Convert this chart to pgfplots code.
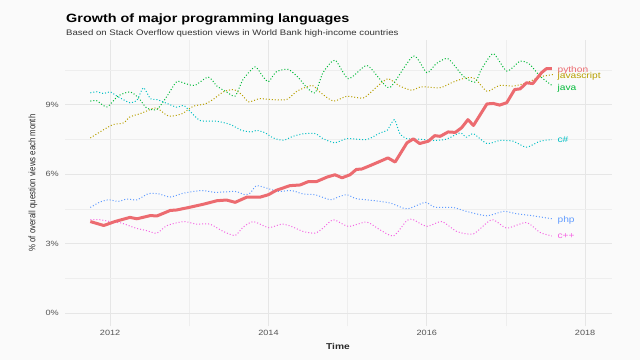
\documentclass[border=0pt]{standalone}
\usepackage{pgfplots}
\pgfplotsset{compat=1.18}
\usepackage{graphicx}
\usepackage{fontspec}
\setmainfont{Liberation Sans}
\definecolor{bgcol}{HTML}{FAFAFA}
\definecolor{gridmaj}{HTML}{E6E6E6}
\definecolor{gridmin}{HTML}{EEEEEE}
\definecolor{tickcol}{HTML}{555555}
\definecolor{labcol}{HTML}{2A2A2A}
\definecolor{subcol}{HTML}{333333}
\definecolor{pycol}{HTML}{EC6B70}
\definecolor{jscol}{HTML}{B79F00}
\definecolor{javacol}{HTML}{00BA38}
\definecolor{cscol}{HTML}{00BFC4}
\definecolor{phpcol}{HTML}{619CFF}
\definecolor{cppcol}{HTML}{F564E3}
\newcommand{\sx}[1]{\scalebox{1.2}[1]{#1}}
\begin{document}
\begin{tikzpicture}
\fill[bgcol] (0,0) rectangle (640pt,360pt);
\node[anchor=base west, inner sep=0pt] at (66pt,337.3pt) {\fontsize{12}{14}\selectfont\bfseries\sx{Growth of major programming languages}};
\node[anchor=base west, inner sep=0pt, text=subcol] at (66pt,325pt) {\fontsize{8}{10}\selectfont\sx{Based on Stack Overflow question views in World Bank high-income countries}};
\node[rotate=90, inner sep=0pt, text=labcol] at (33pt,177pt) {\fontsize{7.8}{9}\selectfont\scalebox{1}[1.2]{\% of overall question views each month}};
\node[inner sep=0pt, text=labcol] at (338pt,14pt) {\fontsize{8.5}{10}\selectfont\bfseries\sx{Time}};
\begin{axis}[
  at={(65pt,34pt)}, anchor=south west, scale only axis,
  width=547pt, height=286pt,
  xmin=2011.43, xmax=2018.34, ymin=-0.56, ymax=11.79,
  axis line style={draw=none},
  major tick length=0pt, minor tick length=0pt,
  xtick={2012,2014,2016,2018},
  xticklabels={\sx{2012},\sx{2014},\sx{2016},\sx{2018}},
  minor xtick={2013,2015,2017},
  ytick={0,3,6,9},
  yticklabels={\sx{0\%},\sx{3\%},\sx{6\%},\sx{9\%}},
  minor ytick={1.5,4.5,7.5,10.5},
  grid=both,
  major grid style={gridmaj, line width=1pt},
  minor grid style={gridmin, line width=0.6pt},
  xticklabel style={font=\fontsize{7.6}{8}\selectfont, text=tickcol, inner sep=0pt, anchor=north, yshift=-3.5pt},
  yticklabel style={font=\fontsize{7.6}{8}\selectfont, text=tickcol, inner sep=0pt, anchor=east, xshift=-6pt},
  clip=false,
  every axis plot/.append style={line join=round},
]
% javascript
\addplot[jscol, line width=1pt, dash pattern=on 1pt off 2pt, smooth, tension=0.4] coordinates {
(2011.75,7.56)(2011.92,7.92)(2012.04,8.14)(2012.17,8.21)(2012.25,8.47)(2012.38,8.61)(2012.51,8.79)(2012.59,8.86)
(2012.74,8.50)(2012.91,8.61)(2013.05,8.93)(2013.20,9.03)(2013.30,9.22)(2013.43,9.55)(2013.56,9.65)(2013.66,9.44)
(2013.75,9.12)(2013.89,9.26)(2014.02,9.22)(2014.23,9.22)(2014.36,9.58)(2014.55,9.83)(2014.65,9.54)(2014.82,9.15)
(2014.99,9.36)(2015.20,9.29)(2015.37,9.77)(2015.51,10.12)(2015.66,9.80)(2015.81,9.62)(2015.93,9.77)(2016.17,9.73)
(2016.33,9.97)(2016.50,10.16)(2016.61,10.12)(2016.76,9.58)(2016.92,9.83)(2017.09,9.80)(2017.26,9.94)(2017.43,10.20)
(2017.60,10.30)};
% java
\addplot[javacol, line width=1pt, dash pattern=on 1pt off 2pt, smooth, tension=0.4] coordinates {
(2011.75,9.15)(2011.83,9.17)(2011.96,8.90)(2012.10,9.37)(2012.25,9.55)(2012.36,9.29)(2012.46,8.86)(2012.59,8.79)
(2012.72,9.37)(2012.84,9.99)(2012.95,9.91)(2013.07,9.83)(2013.24,10.19)(2013.35,9.80)(2013.47,9.55)(2013.58,9.37)
(2013.68,10.09)(2013.83,10.63)(2013.92,10.26)(2014.00,9.99)(2014.10,10.42)(2014.25,10.52)(2014.38,10.16)(2014.48,9.75)
(2014.59,9.51)(2014.69,10.38)(2014.84,10.92)(2015.01,10.12)(2015.24,10.69)(2015.41,10.09)(2015.54,9.75)(2015.83,11.10)
(2016.00,10.38)(2016.12,10.77)(2016.27,10.98)(2016.46,10.23)(2016.61,9.97)(2016.69,10.52)(2016.84,11.20)(2017.01,10.45)
(2017.18,10.88)(2017.30,10.74)(2017.43,10.23)(2017.58,9.83)};
% c#
\addplot[cscol, line width=1pt, dash pattern=on 1pt off 2pt, smooth, tension=0.4] coordinates {
(2011.75,9.51)(2011.83,9.55)(2011.92,9.48)(2012.00,9.55)(2012.10,9.34)(2012.25,9.08)(2012.34,9.19)(2012.42,9.73)
(2012.51,9.25)(2012.59,9.22)(2012.72,9.05)(2012.84,8.89)(2012.93,8.96)(2013.01,8.71)(2013.14,8.31)(2013.35,8.28)
(2013.52,8.14)(2013.66,7.89)(2013.79,7.82)(2013.85,7.89)(2013.96,7.78)(2014.06,7.56)(2014.19,7.46)(2014.31,7.63)
(2014.44,7.74)(2014.59,7.75)(2014.69,7.53)(2014.84,7.35)(2014.99,7.53)(2015.24,7.49)(2015.41,7.78)(2015.50,7.89)
(2015.59,8.35)(2015.66,7.75)(2015.75,7.53)(2015.91,7.51)(2016.08,7.45)(2016.25,7.51)(2016.42,7.78)(2016.50,7.59)
(2016.59,7.74)(2016.76,7.32)(2016.92,7.45)(2017.09,7.42)(2017.26,7.16)(2017.43,7.42)(2017.58,7.49)};
% php
\addplot[phpcol, line width=1pt, dash pattern=on 1pt off 2pt, smooth, tension=0.4] coordinates {
(2011.75,4.56)(2011.87,4.79)(2011.98,4.89)(2012.10,4.82)(2012.21,4.92)(2012.34,4.89)(2012.48,5.15)(2012.61,5.15)
(2012.76,5.01)(2012.93,5.18)(2013.16,5.29)(2013.33,5.21)(2013.58,5.25)(2013.70,5.11)(2013.77,5.18)(2013.85,5.50)
(2014.00,5.37)(2014.13,5.25)(2014.29,5.29)(2014.44,5.14)(2014.59,5.11)(2014.78,4.89)(2014.88,5.01)(2014.99,5.11)
(2015.11,4.94)(2015.32,4.86)(2015.54,4.75)(2015.75,4.50)(2015.98,4.78)(2016.10,4.57)(2016.33,4.56)(2016.50,4.39)
(2016.76,4.20)(2016.97,4.39)(2017.13,4.29)(2017.34,4.20)(2017.58,4.07)};
% c++
\addplot[cppcol, line width=1pt, dash pattern=on 1pt off 2pt, smooth, tension=0.4] coordinates {
(2011.75,4.03)(2011.87,4.03)(2012.00,3.95)(2012.15,3.88)(2012.32,3.67)(2012.46,3.56)(2012.59,3.45)(2012.72,3.78)
(2012.93,3.95)(2013.09,3.84)(2013.26,3.84)(2013.43,3.52)(2013.58,3.35)(2013.68,3.71)(2013.81,3.95)(2014.00,3.69)
(2014.17,3.84)(2014.29,3.74)(2014.44,3.52)(2014.59,3.45)(2014.69,3.67)(2014.82,4.03)(2015.01,3.74)(2015.24,3.93)
(2015.41,3.59)(2015.58,3.33)(2015.75,4.00)(2015.83,4.03)(2016.00,3.74)(2016.19,3.95)(2016.38,3.52)(2016.59,3.42)
(2016.82,4.03)(2017.01,3.67)(2017.26,3.91)(2017.43,3.48)(2017.58,3.33)};
% python
\addplot[pycol, line width=3pt] coordinates {
(2011.75,3.95)(2011.92,3.78)(2012.06,3.95)(2012.25,4.13)(2012.34,4.07)(2012.51,4.21)(2012.59,4.19)(2012.76,4.43)
(2012.84,4.45)(2013.01,4.57)(2013.18,4.70)(2013.35,4.85)(2013.47,4.88)(2013.58,4.78)(2013.73,5.01)(2013.89,5.00)
(2014.00,5.11)(2014.10,5.30)(2014.27,5.50)(2014.40,5.53)(2014.50,5.67)(2014.61,5.68)(2014.74,5.87)(2014.84,5.97)
(2014.93,5.84)(2015.03,5.97)(2015.11,6.20)(2015.18,6.22)(2015.28,6.36)(2015.41,6.55)(2015.51,6.70)(2015.60,6.52)
(2015.75,7.35)(2015.83,7.52)(2015.91,7.32)(2016.02,7.42)(2016.10,7.66)(2016.17,7.63)(2016.27,7.82)(2016.36,7.80)
(2016.44,8.00)(2016.52,8.35)(2016.59,8.10)(2016.76,9.03)(2016.84,9.05)(2016.92,8.98)(2017.01,9.08)(2017.11,9.65)
(2017.18,9.68)(2017.26,9.94)(2017.34,9.91)(2017.45,10.38)(2017.51,10.55)(2017.58,10.55)};
\node[anchor=west, inner sep=0pt, text=pycol] at (axis cs:2017.65,10.50) {\fontsize{8.5}{10}\selectfont\sx{python}};
\node[anchor=west, inner sep=0pt, text=jscol] at (axis cs:2017.65,10.24) {\fontsize{8.5}{10}\selectfont\sx{javascript}};
\node[anchor=west, inner sep=0pt, text=javacol] at (axis cs:2017.65,9.72) {\fontsize{8.5}{10}\selectfont\sx{java}};
\node[anchor=west, inner sep=0pt, text=cscol] at (axis cs:2017.65,7.48) {\fontsize{8.5}{10}\selectfont\sx{c\#}};
\node[anchor=west, inner sep=0pt, text=phpcol] at (axis cs:2017.65,4.02) {\fontsize{8.5}{10}\selectfont\sx{php}};
\node[anchor=west, inner sep=0pt, text=cppcol] at (axis cs:2017.65,3.33) {\fontsize{8.5}{10}\selectfont\sx{c++}};
\end{axis}
\end{tikzpicture}
\end{document}
